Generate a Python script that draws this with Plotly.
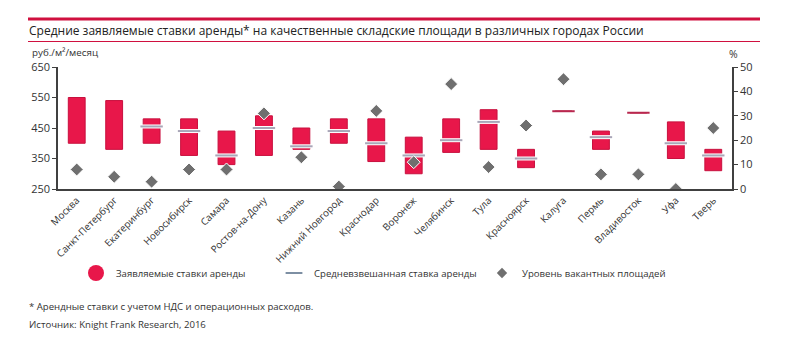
import plotly.graph_objects as go

cities = ["Москва", "Санкт-Петербург", "Екатеринбург", "Новосибирск", "Самара",
          "Ростов-на-Дону", "Казань", "Нижний Новгород", "Краснодар", "Воронеж",
          "Челябинск", "Тула", "Красноярск", "Калуга", "Пермь", "Владивосток",
          "Уфа", "Тверь"]
rate_min = [400, 380, 400, 360, 330, 360, 380, 400, 340, 300, 370, 380, 320, 505, 380, 500, 350, 310]
rate_max = [550, 540, 480, 480, 440, 490, 450, 480, 480, 420, 480, 510, 380, 505, 440, 500, 470, 380]
rate_avg = [None, None, 455, 440, 360, 450, 390, 440, 400, 360, 410, 470, 350, 505, 420, 500, 400, 360]
vacancy = [8, 5, 3, 8, 8, 31, 13, 1, 32, 11, 43, 9, 26, 45, 6, 6, 0, 25]

left_ticks = [250, 350, 450, 550, 650]
right_ticks = [0, 10, 20, 30, 40, 50]

RED = "#e8174a"
RED_DARK = "#b8284f"
GRAY = "#6f6f6f"
FONT = "Open Sans"

W, H = 800, 337
L, R, T, B = 58, 732, 67, 189


def px(x):
    return (x - L) / (R - L)


def py(y):
    return (B - y) / (B - T)


fig = go.Figure()

fig.add_trace(go.Bar(
    x=cities, y=[mx - mn for mn, mx in zip(rate_min, rate_max)], base=rate_min,
    width=0.45, marker=dict(color=RED, line=dict(color="#c8103e", width=1)),
    showlegend=False, hoverinfo="skip"))

avg_colors = [RED_DARK if mn == mx else "#a9a6b8" for mn, mx in zip(rate_min, rate_max)]
white_under = [None if mn == mx else a for mn, mx, a in zip(rate_min, rate_max, rate_avg)]
fig.add_trace(go.Scatter(
    x=cities, y=white_under, mode="markers",
    marker=dict(symbol="line-ew", size=16, line=dict(color="white", width=4)),
    showlegend=False, hoverinfo="skip"))
fig.add_trace(go.Scatter(
    x=cities, y=rate_avg, mode="markers",
    marker=dict(symbol="line-ew", size=16, color=avg_colors,
                line=dict(color=avg_colors, width=2)),
    showlegend=False, hoverinfo="skip"))

fig.add_trace(go.Scatter(
    x=cities, y=vacancy, yaxis="y2", mode="markers",
    marker=dict(symbol="diamond", size=10, color=GRAY, line=dict(color="white", width=1)),
    showlegend=False))

# legend entries, one legend each for precise placement
fig.add_trace(go.Scatter(x=[None], y=[None], mode="markers", name="Заявляемые ставки аренды",
                         marker=dict(symbol="circle", size=16, color=RED), legend="legend"))
fig.add_trace(go.Scatter(x=[None], y=[None], mode="markers", name="Средневзвешанная ставка аренды",
                         marker=dict(symbol="line-ew", size=12, color="#7d8fa3",
                                     line=dict(color="#7d8fa3", width=2)), legend="legend2"))
fig.add_trace(go.Scatter(x=[None], y=[None], mode="markers", name="Уровень вакантных площадей",
                         marker=dict(symbol="diamond", size=8, color=GRAY), legend="legend3"))

leg_common = dict(orientation="h", xref="paper", yref="paper", xanchor="left", yanchor="middle",
                  font=dict(size=9.6, color="#333333"), bgcolor="rgba(0,0,0,0)", itemwidth=30)

fig.update_layout(
    width=W, height=H, autosize=False,
    margin=dict(l=L, r=W - R, t=T, b=H - B, pad=0, autoexpand=False),
    paper_bgcolor="white", plot_bgcolor="white",
    font=dict(family=FONT, size=11, color="#333333"),
    xaxis=dict(type="category", showgrid=False, showline=True, linecolor="#404040", linewidth=1.5,
               ticks="", tickangle=-45, tickfont=dict(size=9.8, color="#333333"),
               range=[-0.5, len(cities) - 0.5], zeroline=False, automargin=False),
    yaxis=dict(range=[250, 650], tickvals=left_ticks, showgrid=False, zeroline=False,
               showline=True, linecolor="#404040", linewidth=1.5, ticks="outside", ticklen=4,
               tickcolor="#404040", tickfont=dict(size=11, color="#333333"), automargin=False),
    yaxis2=dict(range=[0, 50], tickvals=right_ticks, overlaying="y", side="right",
                showgrid=False, zeroline=False, showline=True, linecolor="#404040", linewidth=1.5,
                ticks="outside", ticklen=4, tickcolor="#404040",
                tickfont=dict(size=11, color="#333333"), automargin=False),
    legend=dict(leg_common, x=px(76), y=py(273)),
    legend2=dict(leg_common, x=px(274), y=py(273)),
    legend3=dict(leg_common, x=px(482), y=py(273)),
    showlegend=True,
)

shapes = [
    dict(type="line", xref="paper", yref="paper", x0=px(28), x1=px(760), y0=py(19), y1=py(19),
         line=dict(color="#d0103f", width=3)),
    dict(type="line", xref="paper", yref="paper", x0=px(28), x1=px(760), y0=py(41.5), y1=py(41.5),
         line=dict(color="#d0103f", width=1)),
]
fig.update_layout(shapes=shapes)

annotations = [
    dict(text="Средние заявляемые ставки аренды* на качественные складские площади в различных городах России",
         xref="paper", yref="paper", x=px(27), y=py(30.5), xanchor="left", yanchor="middle",
         showarrow=False, font=dict(size=12.0, color="#222222")),
    dict(text="руб./м²/месяц", xref="paper", yref="paper", x=px(30), y=py(52.5), xanchor="left",
         yanchor="middle", showarrow=False, font=dict(size=9.8, color="#333333")),
    dict(text="%", xref="paper", yref="paper", x=px(733), y=py(54), xanchor="center",
         yanchor="middle", showarrow=False, font=dict(size=10.5, color="#333333")),
    dict(text="* Арендные ставки с учетом НДС и операционных расходов.", xref="paper", yref="paper",
         x=px(27), y=py(306), xanchor="left", yanchor="middle", showarrow=False,
         font=dict(size=9.6, color="#333333")),
    dict(text="Источник: Knight Frank Research, 2016", xref="paper", yref="paper",
         x=px(27), y=py(324), xanchor="left", yanchor="middle", showarrow=False,
         font=dict(size=9.6, color="#333333")),
]
fig.update_layout(annotations=annotations)

fig.write_html("out.html")
